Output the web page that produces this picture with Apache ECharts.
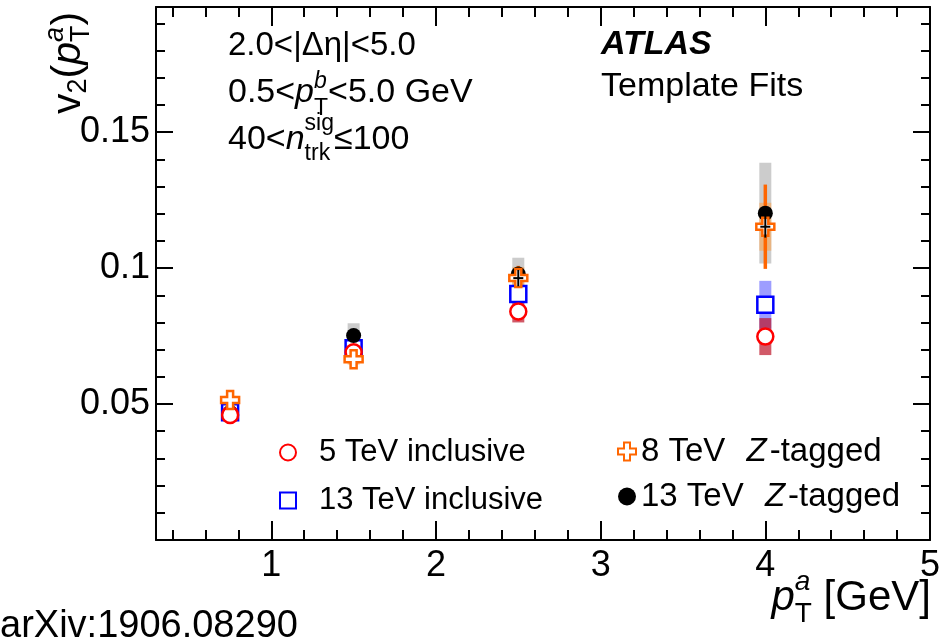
<!DOCTYPE html>
<html>
<head>
<meta charset="utf-8">
<script src="https://cdn.jsdelivr.net/npm/echarts@6.0.0/dist/echarts.min.js"></script>
<style>
html, body { margin: 0; padding: 0; background: #fff; }
#chart { width: 945px; height: 643px; }
</style>
</head>
<body>
<div id="chart"></div>
<script>
// v2(pT) points, 4 pT bins
const PT = [0.75, 1.5, 2.5, 4];
const V2_5INC = [0.046, 0.069, 0.084, 0.0748];
const SYS_5INC = [0.001, 0.002, 0.004, 0.0068];
const V2_13INC = [0.047, 0.0705, 0.0905, 0.0865];
const SYS_13INC = [0.001, 0.002, 0.002, 0.0088];
const V2_8Z = [0.0515, 0.0665, 0.0963, 0.1152];
const STAT_8Z = [0.0015, 0.002, 0.0045, 0.0155];
const SYS_8Z = [0.0015, 0.002, 0.004, 0.0088];
const MARK_8Z = [0, 0, 0.003, 0.004];
const V2_13Z = [0.047, 0.0752, 0.0978, 0.1202];
const SYS_13Z = [0.0015, 0.0045, 0.006, 0.0185];

const X_LABELS = [1, 2, 3, 4, 5];
const X_MAJOR = [1, 2, 3, 4];
const X_MINOR = [0.4, 0.6, 0.8, 1.2, 1.4, 1.6, 1.8, 2.2, 2.4, 2.6, 2.8, 3.2, 3.4, 3.6, 3.8, 4.2, 4.4, 4.6, 4.8];
const Y_LABELS = [0.05, 0.1, 0.15];
const Y_MINOR = [0.01, 0.02, 0.03, 0.04, 0.06, 0.07, 0.08, 0.09, 0.11, 0.12, 0.13, 0.14, 0.16, 0.17, 0.18, 0.19];

const FONT = '"Liberation Sans", Arial, Helvetica, sans-serif';
const chart = echarts.init(document.getElementById('chart'));

function xAx(pos, ticks, len, labels, line) {
  return { type: 'value', position: pos, min: 0.3, max: 5,
    axisLine: { show: line, onZero: false, lineStyle: { color: '#000', width: 2 } },
    axisTick: { show: true, inside: true, length: len, customValues: ticks, lineStyle: { color: '#000', width: 2 } },
    axisLabel: labels ? { show: true, customValues: labels, margin: 8, fontSize: 36, color: '#000', fontFamily: FONT } : { show: false },
    splitLine: { show: false } };
}
function yAx(pos, ticks, len, labels, line) {
  return { type: 'value', position: pos, min: 0, max: 0.196,
    axisLine: { show: line, onZero: false, lineStyle: { color: '#000', width: 2 } },
    axisTick: { show: true, inside: true, length: len, customValues: ticks, lineStyle: { color: '#000', width: 2 } },
    axisLabel: labels ? { show: true, customValues: labels, margin: 6, fontSize: 36, color: '#000', fontFamily: FONT } : { show: false },
    splitLine: { show: false } };
}

function band(vals, err, color, z) {
  return { type: 'custom', z, silent: true, encode: { x: 0, y: [1, 2] },
    data: PT.map((x, i) => [x, vals[i] - err[i], vals[i] + err[i]]),
    renderItem: (params, api) => {
      const hi = api.coord([api.value(0), api.value(2)]);
      const lo = api.coord([api.value(0), api.value(1)]);
      return { type: 'rect', shape: { x: hi[0] - 6, y: hi[1], width: 12, height: lo[1] - hi[1] }, style: { fill: color } };
    } };
}

const mctx = document.createElement('canvas').getContext('2d');
function fnt(s, it, b) { return (it ? 'italic ' : '') + (b ? 'bold ' : '') + s + 'px ' + FONT; }
function run(pieces) {
  let x = 0, held = 0;
  const children = [];
  for (const p of pieces) {
    const f = fnt(p.s || 34, p.i, p.b);
    mctx.font = f;
    const w = mctx.measureText(p.t).width;
    children.push({ type: 'text', x: x, y: p.dy || 0, style: { text: p.t, font: f, fill: '#000', align: 'left', verticalAlign: 'middle' } });
    if (p.stack) held = w;
    else { x += Math.max(w, held); held = 0; }
  }
  return { children, width: x };
}
function textGroup(x, y, pieces, opts) {
  const r = run(pieces);
  opts = opts || {};
  return { type: 'group', x: opts.right ? x - r.width : x, y: y, rotation: opts.rot || 0, silent: true, children: r.children };
}

function richLegend(size, pad) {
  return {
    t: { fontSize: size, fontFamily: FONT, color: '#000' },
    i: { fontSize: size, fontFamily: FONT, color: '#000', fontStyle: 'italic', padding: pad }
  };
}
function legendFmt(name) {
  const k = name.indexOf('Z');
  if (k < 0) return '{t|' + name + '}';
  return '{t|' + name.slice(0, k) + '}{i|Z}{t|' + name.slice(k + 1) + '}';
}

chart.setOption({
  animation: false,
  backgroundColor: '#fff',
  grid: { left: 156, right: 15, top: 7, bottom: 103, containLabel: false, outerBoundsMode: 'none' },
  xAxis: [xAx('bottom', X_MAJOR, 19, X_LABELS, true), xAx('bottom', X_MINOR, 10, null, false),
          xAx('top', X_MAJOR, 19, null, true), xAx('top', X_MINOR, 10, null, false)],
  yAxis: [yAx('left', Y_LABELS, 17, Y_LABELS, true), yAx('left', Y_MINOR, 9, null, false),
          yAx('right', Y_LABELS, 17, null, true), yAx('right', Y_MINOR, 9, null, false)],
  legend: [
    { data: ['5 TeV inclusive', '13 TeV inclusive'], orient: 'vertical', left: 279, top: 437, padding: 0,
      itemWidth: 16, itemHeight: 16, itemGap: 17, selectedMode: false, formatter: legendFmt,
      textStyle: { fontSize: 31, fontFamily: FONT, color: '#000', padding: [0, 0, 0, 18], rich: richLegend(31, [0, 0, 0, 0]) } },
    { data: ['8 TeV Z-tagged', '13 TeV Z-tagged'], orient: 'vertical', left: 617, top: 435, padding: 0,
      itemWidth: 18, itemHeight: 18, itemGap: 12, selectedMode: false, formatter: legendFmt,
      textStyle: { fontSize: 33, fontFamily: FONT, color: '#000', rich: richLegend(33, [0, 3, 0, 12]) } }
  ],
  graphic: { elements: [
    textGroup(228, 46, [{ t: '2.0<|\u0394\u03b7|<5.0', s: 33 }]),
    textGroup(228, 93, [{ t: '0.5<' }, { t: 'p', i: 1 }, { t: 'b', s: 23, i: 1, dy: -11, stack: 1 }, { t: 'T', s: 23, dy: 16 }, { t: '<5.0 GeV' }]),
    textGroup(228, 140, [{ t: '40<' }, { t: 'n', i: 1 }, { t: 'sig', s: 23, dy: -16, stack: 1 }, { t: 'trk', s: 23, dy: 14 }, { t: '\u2264100' }]),
    textGroup(601, 45, [{ t: 'ATLAS', i: 1, b: 1 }]),
    textGroup(601, 87, [{ t: 'Template Fits' }]),
    textGroup(69, 114, [{ t: 'v', s: 41 }, { t: '2', s: 27, dy: 10 }, { t: '(', s: 41 }, { t: 'p', s: 41, i: 1 },
      { t: 'a', s: 27, i: 1, dy: -14, stack: 1 }, { t: 'T', s: 27, dy: 13 }, { t: ')', s: 41 }], { rot: Math.PI / 2 }),
    textGroup(931, 598, [{ t: 'p', s: 42, i: 1 }, { t: 'a', s: 28, i: 1, dy: -16, stack: 1 }, { t: 'T', s: 28, dy: 16 }, { t: ' [GeV]', s: 42 }], { right: true }),
    textGroup(0, 627, [{ t: 'arXiv:1906.08290', s: 38 }])
  ] },
  series: [
    band(V2_13Z, SYS_13Z, '#cccccc', 1),
    band(V2_8Z, SYS_8Z, 'rgba(255,160,70,0.55)', 2),
    band(V2_13INC, SYS_13INC, 'rgba(60,60,255,0.5)', 2),
    band(V2_5INC, SYS_5INC, 'rgba(190,20,40,0.7)', 2),
    { type: 'custom', z: 3, silent: true, encode: { x: 0, y: [1, 2] },
      data: PT.map((x, i) => [x, V2_8Z[i] - STAT_8Z[i], V2_8Z[i] + STAT_8Z[i]]),
      renderItem: (params, api) => {
        const hi = api.coord([api.value(0), api.value(2)]);
        const lo = api.coord([api.value(0), api.value(1)]);
        return { type: 'line', shape: { x1: hi[0], y1: hi[1], x2: lo[0], y2: lo[1] }, style: { stroke: '#ff6600', lineWidth: 3.5 } };
      } },
    { name: '13 TeV inclusive', type: 'scatter', z: 4, silent: true, symbol: 'rect', symbolSize: 16,
      data: PT.map((x, i) => [x, V2_13INC[i]]),
      itemStyle: { color: '#fff', borderColor: '#0000ff', borderWidth: 2.5, opacity: 1 } },
    { name: '13 TeV Z-tagged', type: 'scatter', z: 5, silent: true, symbol: 'circle', symbolSize: 15,
      data: PT.map((x, i) => [x, V2_13Z[i]]),
      itemStyle: { color: '#000', opacity: 1 } },
    { name: '5 TeV inclusive', type: 'scatter', z: 6, silent: true, symbol: 'circle', symbolSize: 16,
      data: PT.map((x, i) => [x, V2_5INC[i]]),
      itemStyle: { color: '#fff', borderColor: '#ff0000', borderWidth: 2.5, opacity: 1 } },
    { name: '8 TeV Z-tagged', type: 'scatter', z: 7, silent: true,
      symbol: 'path://M-1,-3H1V-1H3V1H1V3H-1V1H-3V-1H-1Z', symbolSize: 18,
      data: PT.map((x, i) => [x, V2_8Z[i]]),
      itemStyle: { color: '#fff', borderColor: '#ff6600', borderWidth: 2.5, opacity: 1 } },
    { type: 'custom', z: 8, silent: true, encode: { x: 0, y: 1 },
      data: PT.map((x, i) => [x, V2_8Z[i], MARK_8Z[i]]),
      renderItem: (params, api) => {
        const e = api.value(2);
        if (!e) return null;
        const c = api.coord([api.value(0), api.value(1)]);
        const hi = api.coord([api.value(0), api.value(1) + e]);
        const lo = api.coord([api.value(0), api.value(1) - e]);
        return { type: 'group', children: [
          { type: 'line', shape: { x1: hi[0], y1: hi[1], x2: lo[0], y2: lo[1] }, style: { stroke: '#000', lineWidth: 2 } },
          { type: 'line', shape: { x1: c[0] - 5, y1: c[1], x2: c[0] + 5, y2: c[1] }, style: { stroke: '#000', lineWidth: 2 } }
        ] };
      } }
  ]
});
window.addEventListener('resize', () => chart.resize());
</script>
</body>
</html>
